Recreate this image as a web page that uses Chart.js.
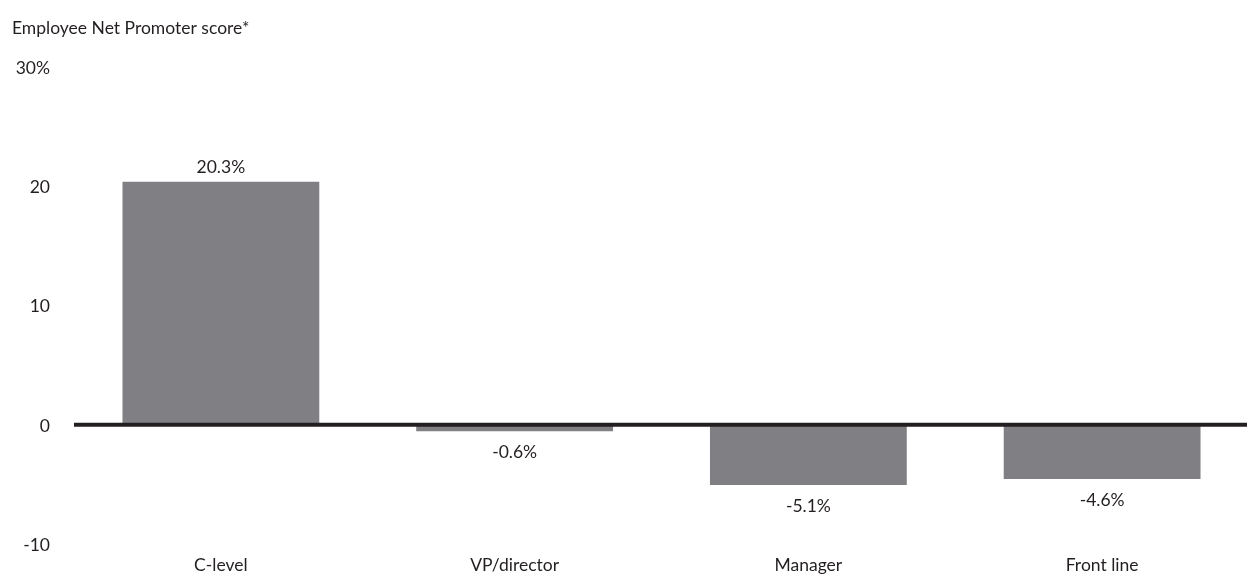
<!DOCTYPE html>
<html>
<head>
<meta charset="utf-8">
<script src="https://cdn.jsdelivr.net/npm/chart.js@4/dist/chart.umd.min.js"></script>
<style>
  html, body { margin: 0; padding: 0; background: #fff; }
  #wrap { width: 1249px; height: 578px; }
</style>
</head>
<body>
<div id="wrap"><canvas id="myChart" width="1249" height="578"></canvas></div>
<script>
// datos
const categorias = ['C-level', 'VP/director', 'Manager', 'Front line'];
const valores = [20.3, -0.6, -5.1, -4.6];
const titulo = 'Employee Net Promoter score*';
const ticksY = [-10, 0, 10, 20, 30];

const TEXTO = '#231f20';
const GRIS = '#808084';
const FUENTE = 'Lato, "Open Sans", sans-serif';
const TAM = 17.5;

// linea del cero por encima de las barras
const lineaCero = {
  id: 'lineaCero',
  afterDatasetsDraw(chart) {
    const ctx = chart.ctx;
    const y = chart.scales.y.getPixelForValue(0);
    ctx.save();
    ctx.strokeStyle = TEXTO;
    ctx.lineWidth = 4;
    ctx.beginPath();
    ctx.moveTo(chart.chartArea.left, y + 0.5);
    ctx.lineTo(chart.chartArea.right - 2, y + 0.5);
    ctx.stroke();
    ctx.restore();
  }
};

// etiquetas de valor encima / debajo de cada barra
const etiquetas = {
  id: 'etiquetas',
  afterDatasetsDraw(chart) {
    const ctx = chart.ctx;
    const meta = chart.getDatasetMeta(0);
    ctx.save();
    ctx.font = TAM + 'px ' + FUENTE;
    ctx.fillStyle = TEXTO;
    ctx.textAlign = 'center';
    ctx.textBaseline = 'middle';
    meta.data.forEach((bar, i) => {
      const v = valores[i];
      const y = v >= 0 ? bar.y - 14 : bar.y + 21;
      ctx.fillText(v.toFixed(1) + '%', bar.x, y);
    });
    ctx.restore();
  }
};

const data = {
  labels: categorias,
  datasets: [{
    data: valores,
    backgroundColor: GRIS,
    borderWidth: 0,
    categoryPercentage: 1,
    barPercentage: 0.67
  }]
};

const config = {
  type: 'bar',
  data: data,
  options: {
    responsive: false,
    animation: false,
    layout: { padding: { left: 12, right: 0, top: 0, bottom: 0 } },
    plugins: {
      legend: { display: false },
      tooltip: { enabled: false },
      title: {
        display: true,
        text: titulo,
        align: 'start',
        color: TEXTO,
        font: { family: FUENTE, size: TAM, weight: 'normal' },
        padding: { top: 18, bottom: 27 }
      }
    },
    scales: {
      x: {
        grid: { display: false, drawTicks: false },
        border: { display: false },
        ticks: { color: TEXTO, font: { family: FUENTE, size: TAM }, padding: 11 },
        afterFit(scale) { scale.height = 32; }
      },
      y: {
        min: ticksY[0],
        max: ticksY[ticksY.length - 1],
        grid: { display: false, drawTicks: false },
        border: { display: false },
        afterBuildTicks(scale) { scale.ticks = ticksY.map(v => ({ value: v })); },
        ticks: {
          color: TEXTO,
          font: { family: FUENTE, size: TAM },
          padding: 24,
          labelOffset: 2,
          callback: v => v === 30 ? '30%' : v
        },
        afterFit(scale) { scale.width = 62; }
      }
    }
  },
  plugins: [lineaCero, etiquetas]
};

const myChart = new Chart(document.getElementById('myChart'), config);
</script>
</body>
</html>
